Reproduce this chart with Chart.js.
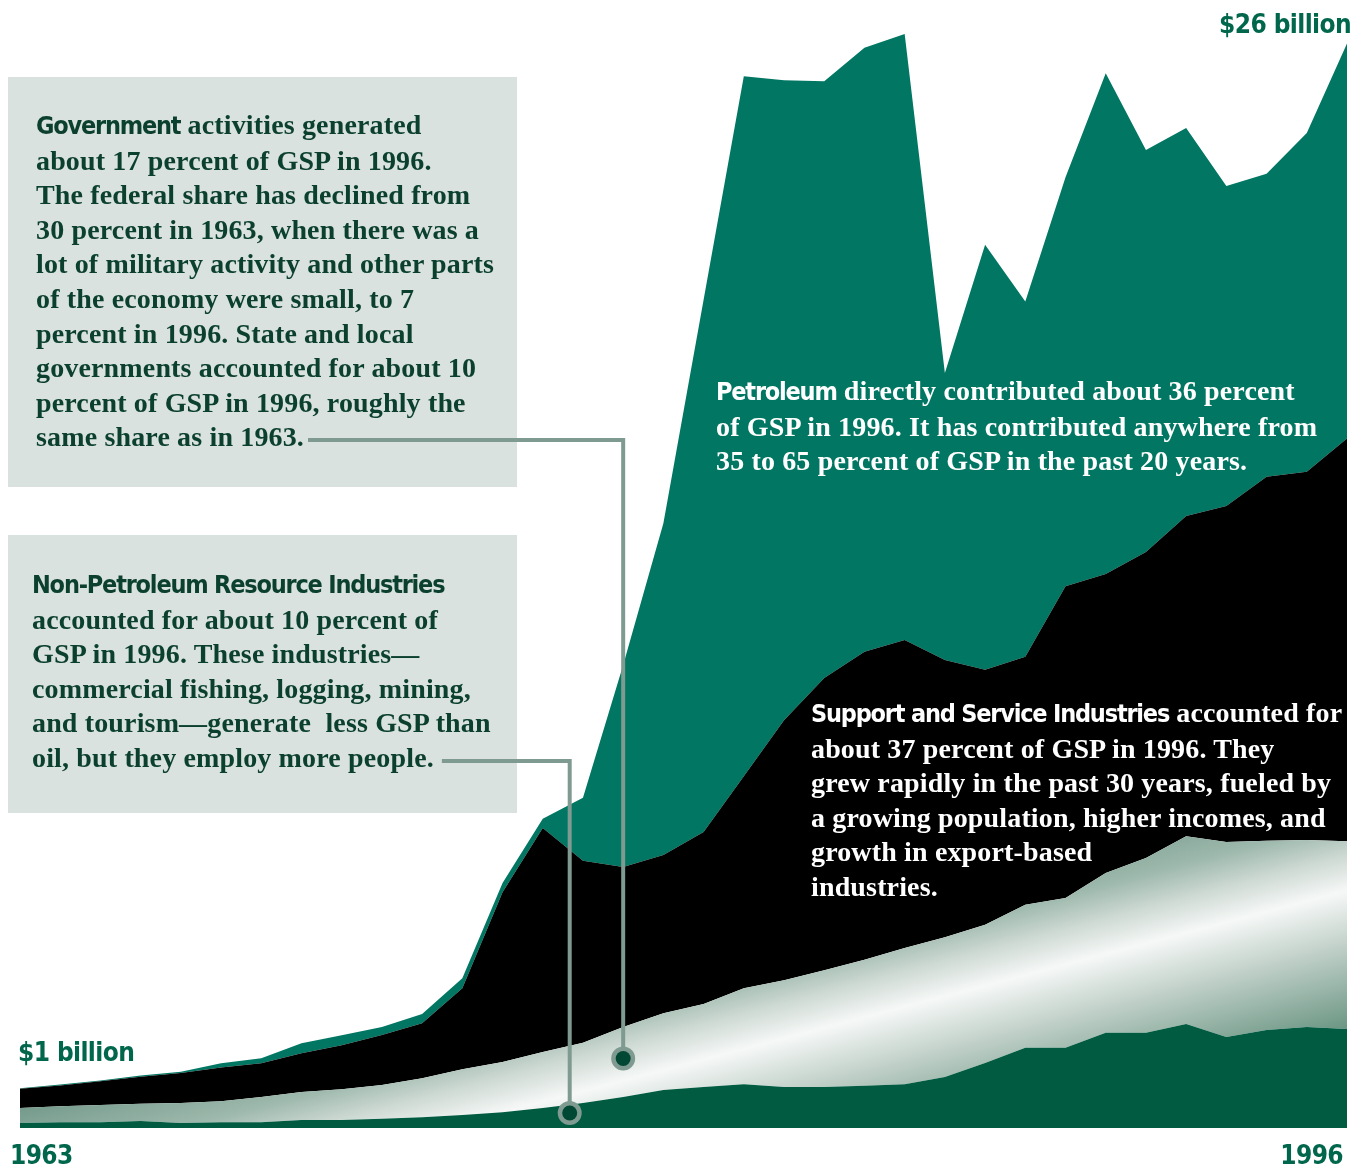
<!DOCTYPE html>
<html>
<head>
<meta charset="utf-8">
<script src="https://cdn.jsdelivr.net/npm/chart.js@4"></script>
<style>
  html, body { margin: 0; padding: 0; background: #fff; }
  #wrap { position: relative; width: 1364px; height: 1168px; overflow: hidden; }
  #chart { position: absolute; left: 0; top: 0; }
  .box { position: absolute; background: #d9e2de; }
  .note { position: absolute; font-family: "Liberation Serif", "DejaVu Serif", serif; font-weight: bold;
          font-size: 28px; line-height: 34.6px; white-space: nowrap; letter-spacing: 0.15px; }
  .dark { color: #0b3f2e; }
  .light { color: #ffffff; }
  .lead { font-family: "Liberation Sans Narrow", "DejaVu Sans Condensed", "Roboto", sans-serif; font-weight: bold;
          font-size: 25px; letter-spacing: -1.2px; }
  .axis { position: absolute; font-family: "Liberation Sans Narrow", "DejaVu Sans Condensed", "Roboto", sans-serif;
          font-weight: bold; font-size: 26px; letter-spacing: -0.6px; color: #00664c; white-space: nowrap; line-height: 30px; }
</style>
</head>
<body>
<div id="wrap">
  <div class="box" style="left:8px;top:77px;width:509px;height:410px"></div>
  <div class="box" style="left:8px;top:535px;width:509px;height:278px"></div>

  <canvas id="chart" width="1364" height="1168"></canvas>

  <div class="note dark" style="left:36px;top:108px">
    <span class="lead">Government</span> activities generated<br>
    about 17 percent of GSP in 1996.<br>
    The federal share has declined from<br>
    30 percent in 1963, when there was a<br>
    lot of military activity and other parts<br>
    of the economy were small, to 7<br>
    percent in 1996. State and local<br>
    governments accounted for about 10<br>
    percent of GSP in 1996, roughly the<br>
    same share as in 1963.<span id="end1"></span>
  </div>

  <div class="note dark" style="left:32px;top:567px">
    <span class="lead">Non-Petroleum Resource Industries</span><br>
    accounted for about 10 percent of<br>
    GSP in 1996. These industries—<br>
    commercial fishing, logging, mining,<br>
    and tourism—generate&nbsp; less GSP than<br>
    oil, but they employ more people.<span id="end2"></span>
  </div>

  <div class="note light" style="left:716px;top:374px">
    <span class="lead">Petroleum</span> directly contributed about 36 percent<br>
    of GSP in 1996. It has contributed anywhere from<br>
    35 to 65 percent of GSP in the past 20 years.
  </div>

  <div class="note light" style="left:811px;top:696px">
    <span class="lead">Support and Service Industries</span> accounted for<br>
    about 37 percent of GSP in 1996. They<br>
    grew rapidly in the past 30 years, fueled by<br>
    a growing population, higher incomes, and<br>
    growth in export-based<br>
    industries.
  </div>

  <div class="axis" id="lblTop" style="right:13px;top:9px"></div>
  <div class="axis" id="lblLow" style="left:18px;top:1037px"></div>
  <div class="axis" id="lblFirst" style="left:10px;top:1140px"></div>
  <div class="axis" id="lblLast" style="right:21px;top:1140px"></div>
</div>

<script>
const years = ['1963','1964','1965','1966','1967','1968','1969','1970','1971','1972','1973','1974',
  '1975','1976','1977','1978','1979','1980','1981','1982','1983','1984','1985','1986','1987',
  '1988','1989','1990','1991','1992','1993','1994','1995','1996'];

// billions of dollars
const nonPetroleum = [0.12,0.14,0.14,0.17,0.12,0.14,0.14,0.19,0.19,0.22,0.26,0.31,0.38,0.48,0.60,0.74,
  0.91,0.98,1.05,0.98,0.98,1.01,1.05,1.22,1.56,1.92,1.92,2.28,2.28,2.49,2.18,2.35,2.42,2.37];
const government = [0.36,0.38,0.41,0.41,0.48,0.50,0.60,0.67,0.74,0.81,0.93,1.10,1.20,1.34,1.44,1.68,
  1.84,1.99,2.30,2.56,2.80,3.02,3.26,3.35,3.31,3.43,3.59,3.83,4.19,4.50,4.67,4.53,4.48,4.50];
const support = [0.46,0.50,0.57,0.65,0.72,0.81,0.81,0.93,1.05,1.20,1.32,1.94,4.07,5.37,4.36,3.83,
  3.79,4.12,5.08,6.23,7.00,7.38,7.38,6.64,6.11,5.94,7.47,7.16,7.33,7.67,8.05,8.72,8.82,9.65];
const petroleum = [0.01,0.02,0.02,0.03,0.03,0.10,0.12,0.24,0.24,0.19,0.22,0.24,0.22,0.22,1.51,4.84,
  7.95,12.75,16.77,15.33,14.30,14.47,14.52,6.88,10.18,8.51,9.80,12.00,9.63,9.30,7.67,7.26,8.12,9.46];

const valueLabels = ['$26 billion', '$1 billion'];
const yearLabels = [years[0], years[years.length - 1]];

document.getElementById('lblTop').textContent = valueLabels[0];
document.getElementById('lblLow').textContent = valueLabels[1];
document.getElementById('lblFirst').textContent = yearLabels[0];
document.getElementById('lblLast').textContent = yearLabels[1];

function govGradient(context) {
  const chart = context.chart;
  const area = chart.chartArea;
  if (!area) return '#c8d6cf';
  // sheen running diagonally up to the right
  const cx = area.left + 880, cy = area.bottom - 120;
  const nx = 0.254 * 135, ny = 0.967 * 135;
  const g = chart.ctx.createLinearGradient(cx - nx, cy - ny, cx + nx, cy + ny);
  g.addColorStop(0, '#6f9787');
  g.addColorStop(0.25, '#9db8ac');
  g.addColorStop(0.38, '#d0dbd5');
  g.addColorStop(0.5, '#f6f8f7');
  g.addColorStop(0.7, '#bfcfc7');
  g.addColorStop(1, '#6a9583');
  return g;
}

// leader lines from the notes to the bands
const leaders = {
  id: 'leaders',
  afterDatasetsDraw(chart) {
    const ctx = chart.ctx;
    const x = chart.scales.x, y = chart.scales.y;
    const e1 = document.getElementById('end1').getBoundingClientRect();
    const e2 = document.getElementById('end2').getBoundingClientRect();
    const i1 = 15;
    const d1 = { x: x.getPixelForValue(i1), y: y.getPixelForValue(nonPetroleum[i1] + government[i1] * 0.55) };
    const d2 = { x: x.getPixelForValue(13.67), y: y.getPixelForValue(0.36) };
    const lines = [
      [e1.right + 4, 440, d1],
      [e2.right + 8, 761, d2]
    ];
    ctx.save();
    ctx.strokeStyle = '#7f9b91';
    ctx.lineWidth = 4;
    for (const [sx, sy, d] of lines) {
      ctx.beginPath();
      ctx.moveTo(sx, sy);
      ctx.lineTo(d.x, sy);
      ctx.lineTo(d.x, d.y);
      ctx.stroke();
      ctx.beginPath();
      ctx.arc(d.x, d.y, 12, 0, Math.PI * 2);
      ctx.fillStyle = '#7f9b91';
      ctx.fill();
      ctx.beginPath();
      ctx.arc(d.x, d.y, 7.5, 0, Math.PI * 2);
      ctx.fillStyle = '#004833';
      ctx.fill();
    }
    ctx.restore();
  }
};

const ds = (label, data, color, fill) => ({
  label, data, backgroundColor: color, borderWidth: 0, pointRadius: 0, fill
});

new Chart(document.getElementById('chart'), {
  type: 'line',
  data: {
    labels: years,
    datasets: [
      ds('Non-Petroleum Resource Industries', nonPetroleum, '#005b41', 'origin'),
      ds('Government', government, govGradient, '-1'),
      ds('Support and Service Industries', support, '#000000', '-1'),
      ds('Petroleum', petroleum, '#017763', '-1')
    ]
  },
  options: {
    responsive: false,
    animation: false,
    layout: { padding: { left: 20, right: 17, top: 1, bottom: 40 } },
    elements: { line: { tension: 0 } },
    plugins: { legend: { display: false }, tooltip: { enabled: false } },
    scales: {
      x: { display: false, offset: false },
      y: { display: false, stacked: true, min: 0, max: 27 }
    }
  },
  plugins: [leaders]
});
</script>
</body>
</html>
